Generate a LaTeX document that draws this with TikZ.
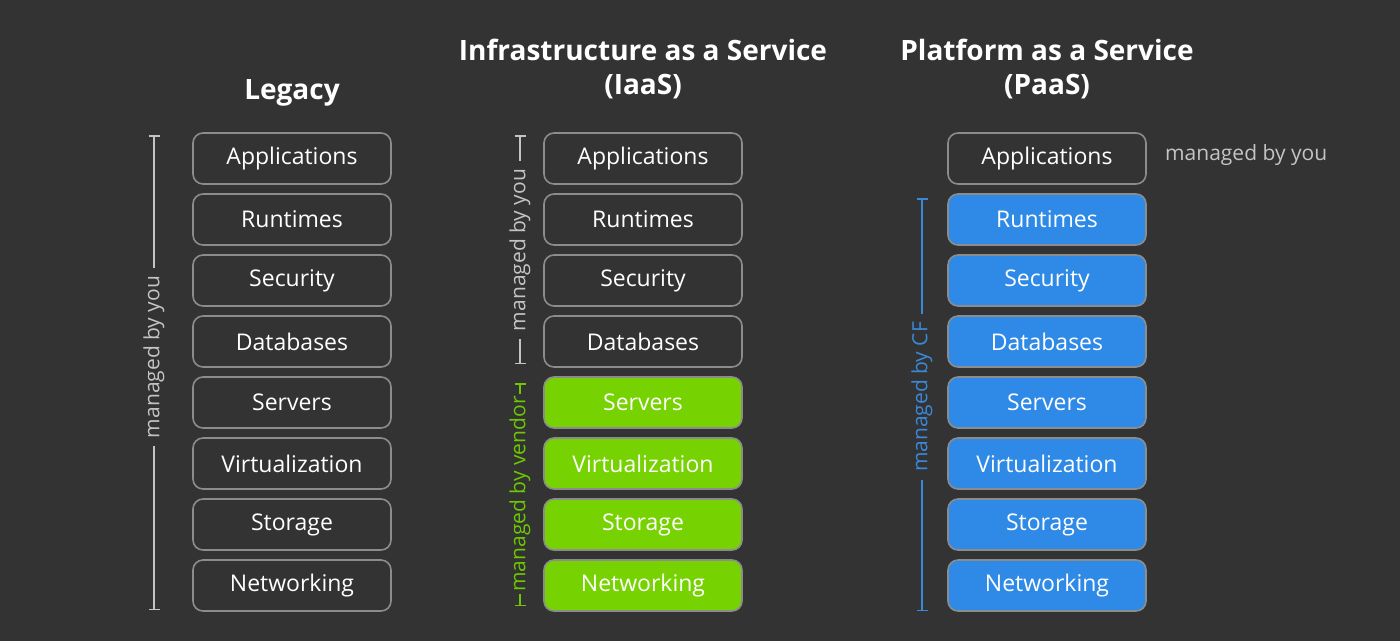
\documentclass[tikz,border=0pt]{standalone}
\usepackage{fontspec}
\setmainfont{Open Sans}
\usetikzlibrary{arrows.meta}
\definecolor{bg}{HTML}{333333}
\definecolor{boxline}{HTML}{8C8C8C}
\definecolor{vgreen}{HTML}{76D200}
\definecolor{cfblue}{HTML}{2E8AE6}
\definecolor{lblgray}{HTML}{C4C4C4}
\definecolor{lblgreen}{HTML}{6CC800}
\definecolor{lblblue}{HTML}{3A88D8}
\begin{document}
\begin{tikzpicture}[x=1pt,y=-1pt,
  layer/.style={draw=boxline, line width=1.6pt, rounded corners=10pt,
    minimum width=198pt, minimum height=51pt, inner sep=0pt,
    text=white, font=\fontsize{23}{27}\selectfont},
  plainbox/.style={layer, fill=bg},
  vendorbox/.style={layer, fill=vgreen},
  cfbox/.style={layer, fill=cfblue},
  title/.style={text=white, font=\bfseries\fontsize{28}{32}\selectfont, align=center},
  lbl/.style={font=\fontsize{21}{25}\selectfont, inner sep=8pt},
  bracket/.style={line width=1.5pt, {Bar[width=11pt,line width=1.5pt]}-}
]
\fill[bg] (0,0) rectangle (1400,641);
\useasboundingbox (0,0) rectangle (1400,641);

% titles
\node[title] (tL) at (292,93) {Legacy};
\node[title] (tI1) at (643,50) {Infrastructure as a Service};
\node[title] (tI2) at (643,87) {(IaaS)};
\node[title] (tP1) at (1047,50) {Platform as a Service};
\node[title] (tP2) at (1047,87) {(PaaS)};

% Legacy stack
\foreach \t [count=\i] in {Applications,Runtimes,Security,Databases,Servers,Virtualization,Storage,Networking}
  \node[plainbox] (L\i) at (292,97.5+61*\i) {\t};

% IaaS stack
\foreach \t [count=\i] in {Applications,Runtimes,Security,Databases}
  \node[plainbox] (I\i) at (643,97.5+61*\i) {\t};
\foreach \t [count=\i from 5] in {Servers,Virtualization,Storage,Networking}
  \node[vendorbox] (I\i) at (643,97.5+61*\i) {\t};

% PaaS stack
\node[plainbox] (P1) at (1047,158.5) {Applications};
\foreach \t [count=\i from 2] in {Runtimes,Security,Databases,Servers,Virtualization,Storage,Networking}
  \node[cfbox] (P\i) at (1047,97.5+61*\i) {\t};

% Legacy bracket
\node[lbl, text=lblgray, rotate=90] (Llab) at (154,357) {managed by you};
\coordinate (Ltop) at (154,135);
\coordinate (Lbot) at (154,610);
\draw[bracket, draw=lblgray] (Ltop) -- (Llab.east);
\draw[bracket, draw=lblgray] (Lbot) -- (Llab.west);

% IaaS you bracket
\node[lbl, text=lblgray, rotate=90] (Iylab) at (520,250) {managed by you};
\coordinate (Iytop) at (520,135);
\coordinate (Iybot) at (520,364);
\draw[bracket, draw=lblgray] (Iytop) -- (Iylab.east);
\draw[bracket, draw=lblgray] (Iybot) -- (Iylab.west);

% IaaS vendor bracket
\node[lbl, text=lblgreen, rotate=90, inner sep=2pt] (Ivlab) at (520,494) {managed by vendor};
\coordinate (Ivtop) at (520,383);
\coordinate (Ivbot) at (520,606);
\draw[bracket, draw=lblgreen] (Ivtop) -- (Ivlab.east);
\draw[bracket, draw=lblgreen] (Ivbot) -- (Ivlab.west);

% PaaS CF bracket
\node[lbl, text=lblblue, rotate=90] (Pclab) at (922,397) {managed by CF};
\coordinate (Pctop) at (922,198);
\coordinate (Pcbot) at (922,611);
\draw[bracket, draw=lblblue] (Pctop) -- (Pclab.east);
\draw[bracket, draw=lblblue] (Pcbot) -- (Pclab.west);

% PaaS you label
\node[lbl, text=lblgray, anchor=west, inner sep=0pt] (Pylab) at (1165,155) {managed by you};
\end{tikzpicture}
\end{document}
